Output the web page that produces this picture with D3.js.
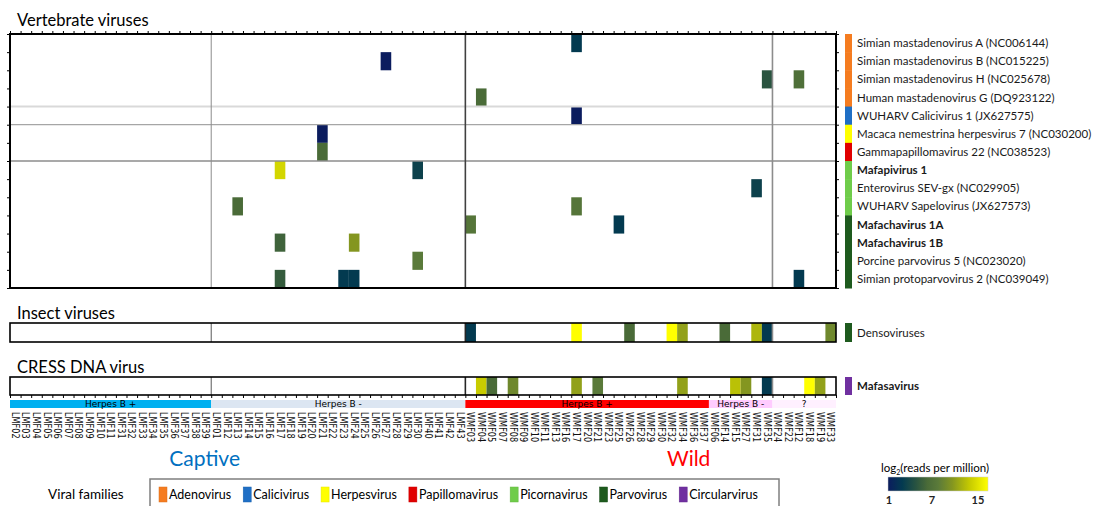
<!DOCTYPE html>
<html>
<head>
<meta charset="utf-8">
<script src="https://cdn.jsdelivr.net/npm/d3@7"></script>
<style>
body { margin: 0; background: #fff; }
svg { display: block; }
</style>
</head>
<body>
<div id="chart"></div>
<script>
// samples, in plotted order
var samples = [
  "LMF02","LMF03","LMF04","LMF05","LMF06","LMF07","LMF08","LMF09","LMF10","LMF11",
  "LMF31","LMF32","LMF33","LMF34","LMF35","LMF36","LMF37","LMF38","LMF39",
  "LMF01","LMF12","LMF13","LMF14","LMF15","LMF16","LMF17","LMF18","LMF19","LMF20",
  "LMF21","LMF22","LMF23","LMF24","LMF25","LMF26","LMF27","LMF28","LMF29","LMF30",
  "LMF40","LMF41","LMF42","LMF43",
  "WMF03","WMF04","WMF05","WMF07","WMF08","WMF09","WMF10","WMF11","WMF13","WMF16",
  "WMF17","WMF20","WMF21","WMF23","WMF25","WMF26","WMF28","WMF29","WMF30","WMF32",
  "WMF34","WMF36","WMF37",
  "WMF06","WMF14","WMF15","WMF27","WMF31","WMF35",
  "WMF24","WMF22","WMF12","WMF18","WMF19","WMF33"
];
var herpesLabels = ["Herpes B +", "Herpes B -", "Herpes B +", "Herpes B -", "?"];
var herpesFirst = ["LMF02", "LMF01", "WMF03", "WMF06", "WMF24"];
var origins = ["Captive", "Wild"];
var originFirst = ["LMF02", "WMF03"];

var vertebrateViruses = [
  "Simian mastadenovirus A (NC006144)",
  "Simian mastadenovirus B (NC015225)",
  "Simian mastadenovirus H (NC025678)",
  "Human mastadenovirus G (DQ923122)",
  "WUHARV Calicivirus 1 (JX627575)",
  "Macaca nemestrina herpesvirus 7 (NC030200)",
  "Gammapapillomavirus 22 (NC038523)",
  "Mafapivirus 1",
  "Enterovirus SEV-gx (NC029905)",
  "WUHARV Sapelovirus (JX627573)",
  "Mafachavirus 1A",
  "Mafachavirus 1B",
  "Porcine parvovirus 5 (NC023020)",
  "Simian protoparvovirus 2 (NC039049)"
];
var vertebrateFamilies = [
  "Adenovirus","Adenovirus","Adenovirus","Adenovirus","Calicivirus","Herpesvirus",
  "Papillomavirus","Picornavirus","Picornavirus","Picornavirus",
  "Parvovirus","Parvovirus","Parvovirus","Parvovirus"
];
var novelViruses = ["Mafapivirus 1", "Mafachavirus 1A", "Mafachavirus 1B", "Mafasavirus"];

// [virus, sample, log2 reads per million]
var vertebrateHits = [
  ["Simian mastadenovirus A (NC006144)", "WMF17", 3],
  ["Simian mastadenovirus B (NC015225)", "LMF27", 1],
  ["Simian mastadenovirus H (NC025678)", "WMF35", 5],
  ["Simian mastadenovirus H (NC025678)", "WMF12", 7],
  ["Human mastadenovirus G (DQ923122)", "WMF04", 6.5],
  ["WUHARV Calicivirus 1 (JX627575)", "WMF17", 1],
  ["Macaca nemestrina herpesvirus 7 (NC030200)", "LMF21", 1],
  ["Gammapapillomavirus 22 (NC038523)", "LMF21", 6.5],
  ["Mafapivirus 1", "LMF17", 13],
  ["Mafapivirus 1", "LMF30", 3.5],
  ["Enterovirus SEV-gx (NC029905)", "WMF31", 3.5],
  ["WUHARV Sapelovirus (JX627573)", "LMF13", 6.5],
  ["WUHARV Sapelovirus (JX627573)", "WMF17", 7.5],
  ["Mafachavirus 1A", "WMF03", 7.5],
  ["Mafachavirus 1A", "WMF25", 3],
  ["Mafachavirus 1B", "LMF17", 6],
  ["Mafachavirus 1B", "LMF24", 10],
  ["Porcine parvovirus 5 (NC023020)", "LMF30", 8],
  ["Simian protoparvovirus 2 (NC039049)", "LMF17", 5.5],
  ["Simian protoparvovirus 2 (NC039049)", "LMF23", 3],
  ["Simian protoparvovirus 2 (NC039049)", "LMF24", 3],
  ["Simian protoparvovirus 2 (NC039049)", "WMF12", 3]
];
var densoHits = [
  ["WMF03", 3], ["WMF17", 15], ["WMF26", 6.5], ["WMF32", 15], ["WMF34", 10.5],
  ["WMF14", 6.5], ["WMF31", 11.5], ["WMF35", 3], ["WMF33", 9]
];
var cressHits = [
  ["WMF04", 12.5], ["WMF05", 6.5], ["WMF08", 9], ["WMF17", 10.5], ["WMF21", 8],
  ["WMF34", 10.5], ["WMF15", 12], ["WMF27", 10], ["WMF35", 3], ["WMF18", 15], ["WMF19", 10.5]
];

var families = ["Adenovirus","Calicivirus","Herpesvirus","Papillomavirus","Picornavirus","Parvovirus","Circularvirus"];
var scaleTicks = [1, 7, 15];

var W = 1105, H = 506;
var svg = d3.select("#chart").append("svg")
    .attr("width", W)
    .attr("height", H)
    .style("font-family", "Lato, 'Open Sans', sans-serif");

var color = d3.scaleLinear()
    .domain([1, 3, 5, 6.5, 8, 10, 12.5, 15])
    .range(["#0b1c5e", "#033a50", "#2a5440", "#4a6b38", "#5a7a3a", "#849620", "#c8cc00", "#ffff00"])
    .clamp(true);

var familyColor = d3.scaleOrdinal()
    .domain(families)
    .range(["#f57c20", "#1f6fc5", "#ffff00", "#e00000", "#6fcc4a", "#1e5a1e", "#7030a0"]);

var x = d3.scaleBand().domain(samples).range([10, 836]);
var xEdge = d3.scaleLinear().domain([0, samples.length]).range([10, 836]);
var yV = d3.scaleBand().domain(vertebrateViruses).range([34, 288]);
var yEdge = d3.scaleLinear().domain([0, vertebrateViruses.length]).range([34, 288]);

function groupEnd(first, i) {
    return i + 1 < first.length ? x(first[i + 1]) : 836;
}

// panel titles
svg.append("text").attr("x", 17).attr("y", 26).style("font-size", "16.5px").text("Vertebrate viruses");
svg.append("text").attr("x", 17).attr("y", 319).style("font-size", "16.5px").text("Insect viruses");
svg.append("text").attr("x", 17).attr("y", 373).style("font-size", "16.5px").text("CRESS DNA virus");

// ---- vertebrate panel
svg.append("g").attr("transform", "translate(0,34)")
    .call(d3.axisTop(xEdge).ticks(samples.length).tickSize(3).tickSizeOuter(0).tickFormat(""))
    .call(g => g.select(".domain").remove());
svg.append("g").attr("transform", "translate(10,0)")
    .call(d3.axisLeft(yEdge).ticks(vertebrateViruses.length).tickSize(3).tickSizeOuter(0).tickFormat(""))
    .call(g => g.select(".domain").remove());
svg.append("g").attr("transform", "translate(836,0)")
    .call(d3.axisRight(yEdge).ticks(vertebrateViruses.length).tickSize(3).tickSizeOuter(0).tickFormat(""))
    .call(g => g.select(".domain").remove());

svg.selectAll(".vcell")
    .data(vertebrateHits)
    .enter()
    .append("rect")
    .attr("class", "vcell")
    .attr("x", d => x(d[1]))
    .attr("y", d => yV(d[0]))
    .attr("width", x.bandwidth())
    .attr("height", yV.bandwidth())
    .attr("fill", d => color(d[2]));

// row rules between families
var rules = [[4, "#d9d9d9", 2], [5, "#a6a6a6", 1.3], [7, "#8c8c8c", 1.6]];
svg.selectAll(".hrule")
    .data(rules)
    .enter()
    .append("line")
    .attr("x1", 10).attr("x2", 836)
    .attr("y1", d => yEdge(d[0])).attr("y2", d => yEdge(d[0]))
    .attr("stroke", d => d[1])
    .attr("stroke-width", d => d[2]);

function vSeparators(top, bottom, cols) {
    svg.selectAll(null)
        .data(cols)
        .enter()
        .append("line")
        .attr("x1", d => x(d[0])).attr("x2", d => x(d[0]))
        .attr("y1", top).attr("y2", bottom)
        .attr("stroke", d => d[1])
        .attr("stroke-width", d => d[2]);
}
vSeparators(34, 288, [["LMF01", "#8c8c8c", 1], ["WMF03", "#404040", 1.6], ["WMF24", "#8c8c8c", 1.6]]);

svg.append("rect")
    .attr("x", 10).attr("y", 34).attr("width", 826).attr("height", 254)
    .attr("fill", "none").attr("stroke", "#000").attr("stroke-width", 2);

// family colour bar + row labels
svg.selectAll(".fam")
    .data(vertebrateViruses)
    .enter()
    .append("rect")
    .attr("x", 845)
    .attr("y", d => yV(d))
    .attr("width", 7)
    .attr("height", yV.bandwidth() + 0.5)
    .attr("fill", (d, i) => familyColor(vertebrateFamilies[i]));

svg.selectAll(".rowlab")
    .data(vertebrateViruses)
    .enter()
    .append("text")
    .attr("x", 857)
    .attr("y", d => yV(d) + yV.bandwidth() / 2)
    .attr("dy", "0.35em")
    .style("font-size", "11.5px")
    .style("font-weight", d => novelViruses.indexOf(d) >= 0 ? "bold" : "normal")
    .style("fill", "#1a1a1a")
    .text(d => d);

// ---- single row panels
function singleRow(top, bottom, hits, label, family, seps) {
    svg.selectAll(null)
        .data(hits)
        .enter()
        .append("rect")
        .attr("x", d => x(d[0]))
        .attr("y", top)
        .attr("width", x.bandwidth())
        .attr("height", bottom - top)
        .attr("fill", d => color(d[1]));
    vSeparators(top, bottom, seps);
    svg.append("rect")
        .attr("x", 10).attr("y", top).attr("width", 826).attr("height", bottom - top)
        .attr("fill", "none").attr("stroke", "#000").attr("stroke-width", 1.6);
    svg.append("rect")
        .attr("x", 845).attr("y", top).attr("width", 7).attr("height", bottom - top)
        .attr("fill", familyColor(family));
    svg.append("text")
        .attr("x", 857).attr("y", (top + bottom) / 2).attr("dy", "0.35em")
        .style("font-size", "11.5px")
        .style("font-weight", novelViruses.indexOf(label) >= 0 ? "bold" : "normal")
        .style("fill", "#1a1a1a")
        .text(label);
}
var panelSeps = [["LMF01", "#595959", 1], ["WMF03", "#262626", 1.6], ["WMF24", "#8c8c8c", 1.6]];
singleRow(323, 342, densoHits, "Densoviruses", "Parvovirus", panelSeps);
singleRow(377, 395, cressHits, "Mafasavirus", "Circularvirus", panelSeps);

svg.append("g").attr("transform", "translate(0,395)")
    .call(d3.axisBottom(xEdge).ticks(samples.length).tickSize(3).tickSizeOuter(0).tickFormat(""))
    .call(g => g.select(".domain").remove());

// ---- herpes status band
var bandColors = ["#00b0f0", "#dce6f2", "#ff0000", "#ffccff", "#fff0ff"];
svg.selectAll(".band")
    .data(herpesLabels)
    .enter()
    .append("rect")
    .attr("x", (d, i) => x(herpesFirst[i]))
    .attr("y", 400)
    .attr("width", (d, i) => groupEnd(herpesFirst, i) - x(herpesFirst[i]))
    .attr("height", 8)
    .attr("fill", (d, i) => bandColors[i]);
svg.selectAll(".bandlab")
    .data(herpesLabels)
    .enter()
    .append("text")
    .attr("x", (d, i) => (x(herpesFirst[i]) + groupEnd(herpesFirst, i)) / 2)
    .attr("y", 404)
    .attr("dy", "0.35em")
    .attr("text-anchor", "middle")
    .style("font-family", "'DejaVu Sans', sans-serif")
    .style("font-size", "9px")
    .style("fill", "#000")
    .text(d => d);

// sample labels
svg.selectAll(".samp")
    .data(samples)
    .enter()
    .append("text")
    .attr("transform", d => "translate(" + (x(d) + x.bandwidth() / 2) + ",412) rotate(90) scale(0.82,1)")
    .attr("dy", "0.35em")
    .style("font-family", "'DejaVu Sans', sans-serif")
    .style("font-size", "10px")
    .style("fill", "#111")
    .text(d => d);

// origin labels
var originColors = ["#0070c0", "#ff0000"];
var originShift = [-33, 38];
svg.selectAll(".origin")
    .data(origins)
    .enter()
    .append("text")
    .attr("x", (d, i) => (x(originFirst[i]) + groupEnd(originFirst, i)) / 2 + originShift[i])
    .attr("y", 466)
    .attr("text-anchor", "middle")
    .style("font-size", "21px")
    .style("fill", (d, i) => originColors[i])
    .text(d => d);

// ---- viral family legend
svg.append("text").attr("x", 48).attr("y", 499).style("font-size", "13.5px").text("Viral families");
svg.append("rect")
    .attr("x", 150).attr("y", 479).attr("width", 629).attr("height", 40)
    .attr("fill", "none").attr("stroke", "#7f7f7f").attr("stroke-width", 1.5);
var lx = 159;
families.forEach(function (f) {
    svg.append("rect")
        .attr("x", lx).attr("y", 487).attr("width", 8).attr("height", 15)
        .attr("fill", familyColor(f))
        .attr("stroke", d3.color(familyColor(f)).darker(0.3)).attr("stroke-width", 0.5);
    var t = svg.append("text")
        .attr("x", lx + 10).attr("y", 499)
        .style("font-size", "12.5px")
        .text(f);
    lx += 10 + t.node().getComputedTextLength() + 12;
});

// ---- colour scale legend
var grad = svg.append("defs").append("linearGradient").attr("id", "lg");
grad.selectAll("stop")
    .data(d3.range(1, 15.01, 0.5))
    .enter()
    .append("stop")
    .attr("offset", d => ((d - 1) / 14 * 100) + "%")
    .attr("stop-color", d => color(d));
svg.append("rect")
    .attr("x", 888).attr("y", 477).attr("width", 100).attr("height", 14)
    .attr("fill", "url(#lg)").attr("stroke", "#ccc").attr("stroke-width", 0.5);
var lt = svg.append("text").attr("x", 935).attr("y", 472).attr("text-anchor", "middle").style("font-size", "11.5px");
lt.append("tspan").text("log");
lt.append("tspan").attr("dy", 3).style("font-size", "7px").text("2");
lt.append("tspan").attr("dy", -3).text("(reads per million)");
var tickPos = d3.scaleLinear().domain(scaleTicks).range([889, 932, 978]);
svg.selectAll(".ctick")
    .data(scaleTicks)
    .enter()
    .append("text")
    .attr("x", d => tickPos(d))
    .attr("y", 504)
    .attr("text-anchor", "middle")
    .style("font-size", "11px")
    .style("font-weight", "bold")
    .style("fill", "#222")
    .text(d => d);
</script>
</body>
</html>
